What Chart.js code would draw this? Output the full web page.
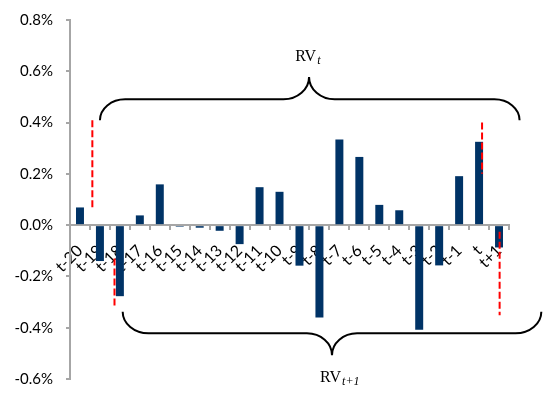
<!DOCTYPE html>
<html>
<head>
<meta charset="utf-8">
<script src="https://cdn.jsdelivr.net/npm/chart.js@4.4.1/dist/chart.umd.min.js"></script>
<style>
    html, body { margin: 0; padding: 0; background: #fff; }
</style>
</head>
<body>
<canvas id="chart" width="546" height="393"></canvas>
<script>
// Daily returns (in %) around the forecast date
const categories = ['t-20', 't-19', 't-18', 't-17', 't-16', 't-15', 't-14', 't-13', 't-12', 't-11',
    't-10', 't-9', 't-8', 't-7', 't-6', 't-5', 't-4', 't-3', 't-2', 't-1', 't', 't+1'];
const returns = [0.069, -0.14, -0.277, 0.038, 0.159, -0.006, -0.01, -0.022, -0.074, 0.148,
    0.13, -0.158, -0.36, 0.334, 0.266, 0.079, 0.058, -0.408, -0.157, 0.191, 0.325, -0.087];
const yMin = -0.6;
const yMax = 0.8;
const yStep = 0.2;

// Window markers (category index, y in %)
const markerX = [0.62, 1.73, 20.15, 21.03];
const markerTop = [0.409, -0.13, 0.40, -0.026];
const markerBottom = [0.067, -0.32, 0.20, -0.351];

// Braces over the two windows
const braceName = ['RV', 'RV'];
const braceSub = ['t', 't+1'];
const braceStart = [1.0, 2.14];
const braceEnd = [22.03, 23.12];
const braceTip = [11.48, 12.63];
const braceFoot = [0.409, -0.338];
const braceBar = [0.491, -0.422];
const bracePeak = [0.578, -0.507];
const braceLabelX = [11.42, 13.02];
const braceLabelY = [0.641, -0.611];

const AXIS_GREY = '#a6a6a6';
const K = 0.552;

function drawBrace(ctx, x0, x1, xt, yFoot, yBar, yPeak) {
    const ry = Math.abs(yBar - yFoot);
    const rx = ry * 1.2;
    const rt = Math.abs(yPeak - yBar) * 1.15;
    ctx.beginPath();
    ctx.moveTo(x0, yFoot);
    ctx.bezierCurveTo(x0, yFoot + K * (yBar - yFoot), x0 + (1 - K) * rx, yBar, x0 + rx, yBar);
    ctx.lineTo(xt - rt, yBar);
    ctx.bezierCurveTo(xt - rt + K * rt, yBar, xt, yPeak + K * (yBar - yPeak), xt, yPeak);
    ctx.bezierCurveTo(xt, yPeak + K * (yBar - yPeak), xt + (1 - K) * rt, yBar, xt + rt, yBar);
    ctx.lineTo(x1 - rx, yBar);
    ctx.bezierCurveTo(x1 - rx + K * rx, yBar, x1, yFoot + K * (yBar - yFoot), x1, yFoot);
    ctx.stroke();
}

const annotations = {
    id: 'annotations',
    afterDraw(chart) {
        const { ctx, scales: { x, y } } = chart;
        ctx.save();

        // red dashed window markers
        ctx.strokeStyle = '#ff0000';
        ctx.lineWidth = 2;
        ctx.setLineDash([7, 3]);
        markerX.forEach((v, i) => {
            const px = x.getPixelForValue(v);
            ctx.beginPath();
            ctx.moveTo(px, y.getPixelForValue(markerTop[i]));
            ctx.lineTo(px, y.getPixelForValue(markerBottom[i]));
            ctx.stroke();
        });

        // braces
        ctx.setLineDash([]);
        ctx.strokeStyle = '#000';
        ctx.lineWidth = 2;
        braceStart.forEach((v, i) => {
            drawBrace(ctx,
                x.getPixelForValue(v),
                x.getPixelForValue(braceEnd[i]),
                x.getPixelForValue(braceTip[i]),
                y.getPixelForValue(braceFoot[i]),
                y.getPixelForValue(braceBar[i]),
                y.getPixelForValue(bracePeak[i]));
        });

        // RV labels with italic subscripts
        ctx.fillStyle = '#000';
        ctx.textBaseline = 'alphabetic';
        ctx.textAlign = 'left';
        braceName.forEach((name, i) => {
            const mainFont = '16px "Liberation Serif"';
            const subFont = 'italic 12px "Liberation Serif"';
            ctx.font = mainFont;
            const w1 = ctx.measureText(name).width;
            ctx.font = subFont;
            const w2 = ctx.measureText(braceSub[i]).width;
            const cx = x.getPixelForValue(braceLabelX[i]);
            const by = y.getPixelForValue(braceLabelY[i]);
            const left = cx - (w1 + w2 + 1) / 2;
            ctx.font = mainFont;
            ctx.fillText(name, left, by);
            ctx.font = subFont;
            ctx.fillText(braceSub[i], left + w1 + 1, by + 3);
        });

        ctx.restore();
    }
};

new Chart(document.getElementById('chart'), {
    type: 'bar',
    data: {
        labels: categories,
        datasets: [{
            data: returns,
            backgroundColor: '#003366',
            barPercentage: 0.4,
            categoryPercentage: 1.0
        }]
    },
    options: {
        responsive: false,
        animation: false,
        layout: { padding: { left: 0, right: 37, top: 20, bottom: 14 } },
        plugins: {
            legend: { display: false },
            tooltip: { enabled: false }
        },
        scales: {
            x: {
                position: { y: 0 },
                z: 1,
                afterFit: (scale) => { scale.height = 0; },
                grid: { drawOnChartArea: false, drawTicks: true, tickLength: 4, color: AXIS_GREY, lineWidth: 2, offset: true },
                border: { color: AXIS_GREY, width: 2 },
                ticks: {
                    autoSkip: false,
                    minRotation: 45,
                    maxRotation: 45,
                    padding: 12,
                    color: '#000',
                    font: { family: 'Lato', size: 16 }
                }
            },
            y: {
                min: yMin,
                max: yMax,
                // keep the plot height fixed regardless of label padding
                afterFit: (scale) => {
                    scale.width = 70;
                    scale.paddingTop = 0;
                    scale.paddingBottom = 0;
                },
                grid: { drawOnChartArea: false, drawTicks: true, tickLength: 4, color: AXIS_GREY, lineWidth: 2 },
                border: { color: AXIS_GREY, width: 2 },
                ticks: {
                    stepSize: yStep,
                    padding: 13,
                    color: '#000',
                    font: { family: 'Lato', size: 15 },
                    callback: (v) => v.toFixed(1) + '%'
                }
            }
        }
    },
    plugins: [annotations]
});
</script>
</body>
</html>
